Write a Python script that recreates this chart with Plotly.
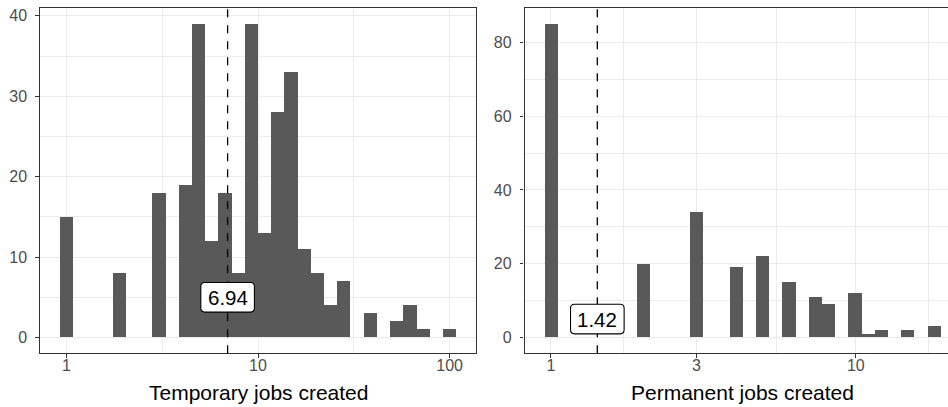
import numpy as np
import plotly.graph_objects as go

# ---------------- data ----------------
temp_counts = [15, 0, 0, 0, 8, 0, 0, 18, 0, 19, 39, 12, 18, 8, 39,
               13, 28, 33, 11, 8, 4, 7, 0, 3, 0, 2, 4, 1, 0, 1]
perm_counts = [85, 0, 0, 0, 0, 0, 0, 20, 0, 0, 0, 34, 0, 0, 19,
               0, 22, 0, 15, 0, 11, 9, 0, 12, 1, 2, 0, 2, 0, 3]
temp_data_range = [1, 100]      # min / max of temporary jobs
perm_data_range = [1, 18]       # min / max of permanent jobs
temp_mean = 6.94
perm_mean = 1.42
temp_ticks = [1, 10, 100]
perm_ticks = [1, 3, 10]
temp_title = "Temporary jobs created"
perm_title = "Permanent jobs created"
label_y = 5
n_bins = 30

# ---------------- styling ----------------
FONT = "Liberation Sans, Arial, sans-serif"
BAR = "#595959"
GRID = "#EBEBEB"
BORDER = "#333333"
TICKTXT = "#4D4D4D"
W, H = 948, 407


def bins(rng, n):
    lo, hi = np.log10(rng[0]), np.log10(rng[1])
    centers = np.linspace(lo, hi, n)
    width = (hi - lo) / (n - 1)
    return centers, width


tc, tw = bins(temp_data_range, n_bins)
pc, pw = bins(perm_data_range, n_bins)

# ggplot-like expanded x limits (in log10 units)
t_xr = [tc[0] - 2 * tw, tc[-1] + 2 * tw]
p_xr_full = [pc[0] - 2 * pw, pc[-1] + 2 * pw]


def yexp(counts):
    m = max(counts)
    return [-0.05 * m, m * 1.05]


t_yr = yexp(temp_counts)
p_yr = yexp(perm_counts)

# panel pixel geometry
py_top, py_bot = 8.2, 353.2
lx0, lx1 = 40, 476
rx0 = 524.5
# right panel is clipped by the window: same scale as full panel
full_right_px = 960.0
px_per = (full_right_px - rx0) / (p_xr_full[1] - p_xr_full[0])
p_xr = [p_xr_full[0], p_xr_full[0] + (W - rx0) / px_per]

ydom = [1 - py_bot / H, 1 - py_top / H]


def minor_vals(majors, rng):
    b = list(majors)
    bd = b[1] - b[0]
    if rng[0] < b[0]:
        b = [b[0] - bd] + b
    if rng[1] > b[-1]:
        b = b + [b[-1] + bd]
    mids = [(b[i] + b[i + 1]) / 2 for i in range(len(b) - 1)]
    return [m for m in mids if rng[0] <= m <= rng[1]]


t_tickv = list(np.log10(temp_ticks))
p_tickv = list(np.log10(perm_ticks))

fig = go.Figure()
fig.add_trace(go.Bar(x=tc, y=temp_counts, width=tw, marker_color=BAR,
                     marker_line_width=0, xaxis="x", yaxis="y",
                     hoverinfo="skip", showlegend=False))
fig.add_trace(go.Bar(x=pc, y=perm_counts, width=pw, marker_color=BAR,
                     marker_line_width=0, xaxis="x2", yaxis="y2",
                     hoverinfo="skip", showlegend=False))

common_axis = dict(showline=True, linecolor=BORDER, linewidth=1.07,
                   ticks="outside", ticklen=3.7, tickwidth=1.07,
                   tickcolor=BORDER, zeroline=False,
                   showgrid=True, gridcolor=GRID, gridwidth=1.07,
                   tickfont=dict(family=FONT, size=16, color=TICKTXT),
                   fixedrange=True)

t_yticks = list(range(0, 41, 10))
p_yticks = list(range(0, 81, 20))

XSTAND = -6
YSTAND = 5

fig.update_layout(
    width=W, height=H,
    margin=dict(l=0, r=0, t=0, b=0),
    paper_bgcolor="white", plot_bgcolor="white",
    bargap=0, hovermode=False,
    font=dict(family=FONT),
    xaxis=dict(common_axis, domain=[lx0 / W, lx1 / W], range=t_xr,
               anchor="y", mirror=True,
               tickmode="array", tickvals=t_tickv,
               ticktext=[str(v) for v in temp_ticks],
               ticklabelstandoff=XSTAND,
               minor=dict(tickmode="array",
                          tickvals=minor_vals(t_tickv, t_xr),
                          showgrid=True, gridcolor=GRID, gridwidth=0.55,
                          ticks="")),
    yaxis=dict(common_axis, domain=ydom, range=t_yr, anchor="x",
               mirror=True, tickmode="array", tickvals=t_yticks,
               ticklabelstandoff=YSTAND,
               minor=dict(tickmode="array",
                          tickvals=minor_vals(t_yticks, t_yr),
                          showgrid=True, gridcolor=GRID, gridwidth=0.55,
                          ticks="")),
    xaxis2=dict(common_axis, domain=[rx0 / W, 1], range=p_xr,
                anchor="y2", mirror=True,
                tickmode="array", tickvals=p_tickv,
                ticktext=[str(v) for v in perm_ticks],
                ticklabelstandoff=XSTAND,
                minor=dict(tickmode="array",
                           tickvals=minor_vals(p_tickv, p_xr),
                           showgrid=True, gridcolor=GRID, gridwidth=0.55,
                           ticks="")),
    yaxis2=dict(common_axis, domain=ydom, range=p_yr, anchor="x2",
                mirror=False, tickmode="array", tickvals=p_yticks,
                ticklabelstandoff=YSTAND,
                minor=dict(tickmode="array",
                           tickvals=minor_vals(p_yticks, p_yr),
                           showgrid=True, gridcolor=GRID, gridwidth=0.55,
                           ticks="")),
)

# mean lines and labels
hw, hh, r = 26.8, 14.8, 4.0
box_path = (f"M {-hw + r},{-hh} L {hw - r},{-hh} Q {hw},{-hh} {hw},{-hh + r} "
            f"L {hw},{hh - r} Q {hw},{hh} {hw - r},{hh} L {-hw + r},{hh} "
            f"Q {-hw},{hh} {-hw},{hh - r} L {-hw},{-hh + r} "
            f"Q {-hw},{-hh} {-hw + r},{-hh} Z")

for xa, ya, mean in [("x", "y", temp_mean), ("x2", "y2", perm_mean)]:
    lx = float(np.log10(mean))
    fig.add_shape(type="line", xref=xa, yref=f"{ya} domain", x0=lx, x1=lx,
                  y0=0, y1=1, line=dict(color="black", width=1.3,
                                        dash="8px,8px"), layer="above")
    fig.add_shape(type="path", xref=xa, yref=ya, xsizemode="pixel",
                  ysizemode="pixel", xanchor=lx, yanchor=label_y,
                  path=box_path, fillcolor="white",
                  line=dict(color="black", width=1.1), layer="above")
    fig.add_annotation(x=lx, y=label_y, xref=xa, yref=ya, text=f"{mean:.2f}",
                       showarrow=False, xanchor="center", yanchor="middle",
                       font=dict(family=FONT, size=20.5, color="black"))

# axis titles
title_y = 1 - 392 / H
fig.add_annotation(x=0.5, xref="x domain", y=title_y, yref="paper",
                   text=temp_title, showarrow=False, yanchor="middle",
                   font=dict(family=FONT, size=21, color="black"))
fig.add_annotation(x=(p_xr_full[0] + p_xr_full[1]) / 2, xref="x2",
                   y=title_y, yref="paper", text=perm_title,
                   showarrow=False, yanchor="middle",
                   font=dict(family=FONT, size=21, color="black"))

fig.write_html("out.html", config={"displayModeBar": False},
               post_script="document.body.style.margin='0';"
                           "document.body.style.overflow='hidden';")
